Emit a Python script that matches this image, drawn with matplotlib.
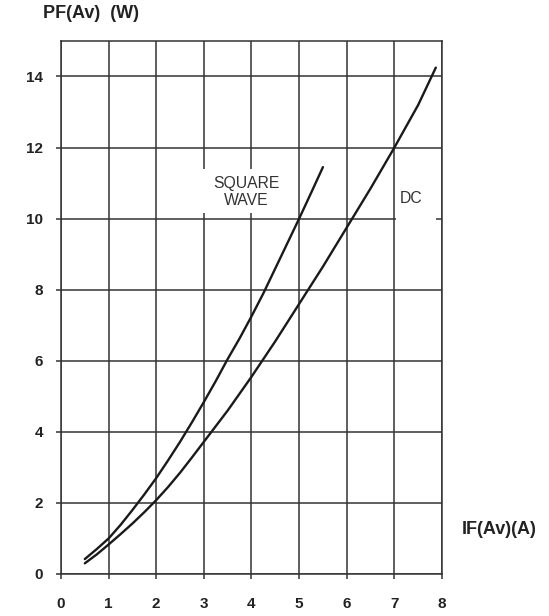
import matplotlib.pyplot as plt
from matplotlib.patches import Rectangle

# data
dc_x = [0.5, 0.75, 1.0, 1.25, 1.5, 1.75, 2.0, 2.25, 2.5, 2.75, 3.0, 3.5, 4.0, 4.5,
        5.0, 5.5, 6.0, 6.5, 7.0, 7.5, 7.87]
dc_y = [0.3, 0.55, 0.83, 1.12, 1.42, 1.74, 2.08, 2.45, 2.85, 3.28, 3.72, 4.6, 5.55, 6.55,
        7.6, 8.65, 9.75, 10.85, 12.0, 13.2, 14.25]

sq_x = [0.5, 0.75, 1.0, 1.25, 1.5, 1.75, 2.0, 2.25, 2.5, 2.75, 3.0, 3.25, 3.5, 3.75,
        4.0, 4.25, 4.5, 4.75, 5.0, 5.25, 5.5]
sq_y = [0.42, 0.7, 1.0, 1.38, 1.8, 2.24, 2.7, 3.2, 3.72, 4.27, 4.84, 5.43, 6.05, 6.63,
        7.25, 7.9, 8.6, 9.3, 10.0, 10.72, 11.45]

x_ticks = [0, 1, 2, 3, 4, 5, 6, 7, 8]
y_ticks = [0, 2, 4, 6, 8, 10, 12, 14]

plt.rcParams['font.family'] = ['Liberation Sans', 'DejaVu Sans']
grid_color = '#333333'

fig = plt.figure(figsize=(5.49, 6.16), dpi=100)
ax = fig.add_axes([0.1111, 0.0682, 0.6940, 0.8653])

ax.set_xlim(0, 8)
ax.set_ylim(0, 15)
ax.set_xticks(x_ticks)
ax.set_yticks(y_ticks)
ax.grid(True, color=grid_color, linewidth=1.1)
ax.set_axisbelow(True)
for s in ax.spines.values():
    s.set_color(grid_color)
    s.set_linewidth(1.1)
ax.tick_params(direction='out', length=3.8, width=1.1, color=grid_color,
               labelsize=11, labelcolor='#222222')
ax.tick_params(axis='x', pad=13)
ax.tick_params(axis='y', pad=9)
for lab in ax.get_xticklabels() + ax.get_yticklabels():
    lab.set_fontweight('bold')

# white patches behind the curve labels (they break the grid in the original)
ax.add_patch(Rectangle((2.85, 10.15), 2.0, 1.26, facecolor='white', edgecolor='none', zorder=1.5))
ax.add_patch(Rectangle((7.04, 9.84), 0.84, 1.6, facecolor='white', edgecolor='none', zorder=1.5))

# curves
ax.plot(sq_x, sq_y, color='#1a1a1a', linewidth=1.7, solid_capstyle='round', zorder=3)
ax.plot(dc_x, dc_y, color='#1a1a1a', linewidth=1.7, solid_capstyle='round', zorder=3)

ax.text(3.9, 10.74, 'SQUARE\nWAVE', ha='center', va='center', fontsize=11.3,
        color='#333333', linespacing=1.15, zorder=2)
ax.text(7.35, 10.57, 'DC', ha='center', va='center', fontsize=11.3,
        color='#333333', zorder=2)

# axis titles
fig.text(43 / 549, 1 - 14 / 616, 'PF(Av)  (W)', ha='left', va='center',
         fontsize=13, fontweight='bold', color='#222222')
fig.text(462 / 549, 1 - 530 / 616, 'IF(Av)(A)', ha='left', va='center',
         fontsize=13, fontweight='bold', color='#222222')

fig.savefig('out.png', dpi=100)
